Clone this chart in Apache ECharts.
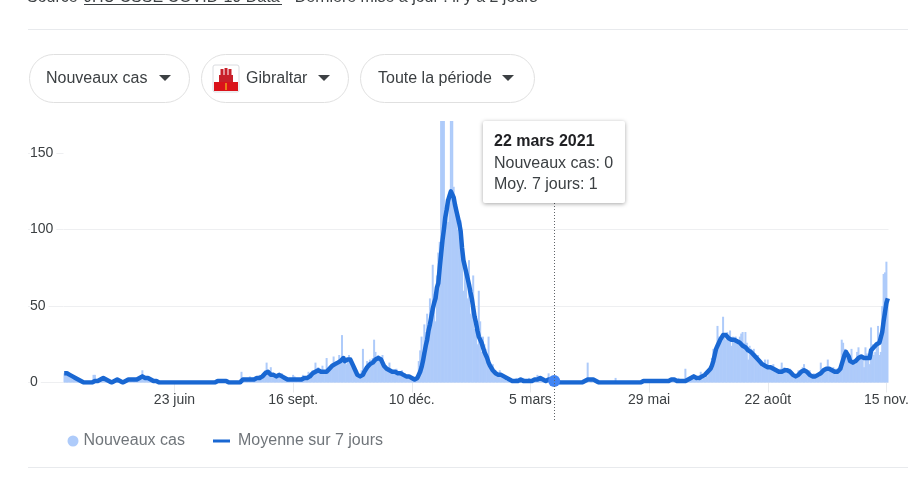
<!DOCTYPE html>
<html><head><meta charset="utf-8">
<style>html,body{margin:0;padding:0;background:#fff}#c{width:917px;height:477px}</style>
<script src="https://cdn.jsdelivr.net/npm/echarts@6/dist/echarts.min.js"></script>
</head><body><div id="c"></div>
<script>
const startDate = '2020-04-05';
const tickIndex = [79,164,249,334,419,504,589];
const tickLabels = ['23 juin','16 sept.','10 déc.','5 mars','29 mai','22 août','15 nov.'];
const yTicks = [0,50,100,150];
const seriesNames = ['Nouveaux cas','Moyenne sur 7 jours'];
const highlightIndex = 351;
const tooltipLines = ['22 mars 2021','Nouveaux cas: 0','Moy. 7 jours: 1'];

const newCases = [
6,7,5,6,4,5,3,4,3,1,
3,1,2,0,1,0,0,0,0,0,
1,5,5,1,2,1,2,1,3,2,
3,1,1,0,1,0,2,1,3,1,
1,0,0,1,0,3,1,2,2,3,
2,1,3,2,3,2,8,4,3,2,
3,2,1,2,1,0,1,0,0,0,
0,0,0,0,0,0,0,0,0,0,
0,0,0,0,0,0,0,0,0,0,0,
0,0,0,0,0,0,0,0,0,0,
0,0,0,0,0,0,0,0,1,2,
1,0,2,1,1,1,0,0,0,0,
0,0,0,0,0,2,7,2,3,1,
2,3,4,3,3,3,3,4,3,5,
4,4,5,8,13,7,6,10,5,6,
5,4,6,5,4,6,4,3,3,2,
3,3,2,5,4,3,3,2,3,3,
5,4,3,4,7,5,6,8,6,13,
9,10,8,8,11,8,7,16,9,9,
11,11,17,13,14,12,18,15,31,14,
14,12,14,18,15,12,9,7,5,4,
4,5,8,22,8,10,14,10,15,13,
16,28,20,16,18,15,14,18,11,10,
9,9,13,7,8,8,6,9,7,6,
6,8,5,6,4,5,3,4,2,3,
1,2,5,14,21,30,20,38,33,45,
28,55,47,77,58,40,70,85,92,190,
240,200,110,120,105,118,240,200,128,120,
115,100,95,106,90,60,75,70,55,80,
45,50,70,35,40,25,60,40,20,30,
25,22,15,30,12,10,12,6,8,7,
5,8,4,3,5,4,1,2,1,0,
1,0,1,3,0,1,3,0,3,2,
0,1,3,0,2,1,3,2,5,4,
3,1,2,1,0,2,6,3,1,1,
0,1,0,0,0,0,0,0,0,0,
0,0,0,0,0,0,0,0,0,0,
0,0,0,2,13,0,2,1,0,0,
0,0,0,0,0,0,0,0,0,0,
0,0,0,0,3,0,0,0,0,0,0,
0,0,0,0,0,0,0,0,0,0,
0,0,0,1,1,2,1,0,1,1,
1,1,0,2,1,1,0,1,2,1,
1,2,0,3,1,2,0,1,3,1,
1,2,1,9,2,1,3,2,5,4,
3,2,1,3,7,2,5,3,7,4,
8,10,16,22,20,24,37,30,28,30,
43,32,28,33,30,34,24,30,28,30,
28,25,30,32,33,26,33,26,15,24,
22,18,22,19,16,18,14,14,12,13,
15,11,15,10,11,9,12,9,8,8,
8,9,13,8,10,8,8,7,9,7,
5,4,5,4,8,6,7,10,12,8,
7,5,8,5,4,6,4,5,5,4,
13,8,9,7,9,15,9,9,9,10,
8,9,7,6,10,28,26,22,17,18,
14,13,22,14,15,12,20,23,15,18,
16,10,23,19,15,12,36,25,18,20,
26,37,18,20,50,71,72,79,52
];

const movingAvg = [
6,6,6,5,5,5,4,4,3,3,
2,2,1,1,0,0,0,0,0,0,
0,1,1,1,1,2,2,2,3,3,
2,2,1,1,0,0,1,1,2,2,
1,1,0,0,1,2,2,2,2,2,
2,2,2,2,3,3,4,4,3,3,
3,2,2,2,1,1,1,0,0,0,
0,0,0,0,0,0,0,0,0,0,
0,0,0,0,0,0,0,0,0,0,0,
0,0,0,0,0,0,0,0,0,0,
0,0,0,0,0,0,0,0,1,1,
1,1,1,1,1,1,0,0,0,0,
0,0,0,0,0,0,1,2,2,2,
2,2,2,2,2,2,2,3,3,3,
4,4,5,6,6,7,6,5,5,5,
4,4,4,5,4,4,4,3,3,2,
2,2,2,2,2,2,2,2,2,2,
2,3,3,3,4,4,5,6,7,7,
8,8,8,7,7,7,7,7,8,9,
10,11,12,12,13,13,14,14,15,16,
14,14,15,15,15,13,11,9,7,5,
4,4,4,5,7,8,10,11,12,13,
13,14,15,15,16,15,15,13,11,10,
9,8,8,7,7,7,7,7,6,6,
6,6,5,5,4,4,4,3,3,3,
2,2,3,4,7,10,14,19,24,28,
34,38,43,48,52,55,62,65,75,84,
93,100,108,113,119,122,125,126,121,116,
112,108,104,99,88,80,76,72,68,64,
59,55,49,43,39,34,30,28,26,23,
20,18,16,13,11,10,8,7,6,5,
5,5,5,4,4,4,3,2,2,1,
1,1,1,1,1,1,2,1,1,1,
1,1,1,1,1,2,2,2,2,2,
3,2,2,2,1,1,2,2,2,1,
1,1,1,0,0,0,0,0,0,0,
0,0,0,0,0,0,0,0,0,0,
0,0,1,2,2,2,2,2,2,2,
1,0,0,0,0,0,0,0,0,0,
0,0,0,0,0,0,0,0,0,0,0,
0,0,0,0,0,0,0,0,0,0,
0,0,0,1,1,1,1,1,1,1,
1,1,1,1,1,1,1,1,1,1,
1,1,1,2,1,2,1,1,2,1,
1,1,1,1,1,2,2,3,3,4,
3,3,3,3,3,4,4,5,5,7,
8,9,11,14,18,22,24,26,28,29,
31,31,31,30,29,28,28,28,28,28,
27,27,26,25,24,23,23,22,21,20,
20,19,18,17,16,15,14,13,12,11,
11,11,10,10,10,9,9,8,8,7,
7,7,7,8,8,8,8,8,7,6,
5,4,4,4,5,6,7,7,8,8,
7,6,5,5,4,4,4,4,5,5,
6,7,8,8,9,9,9,8,8,8,
7,7,7,7,9,12,15,18,20,20,
17,14,13,13,14,14,15,16,17,17,
16,16,16,16,16,16,21,22,23,24,
25,25,26,27,33,40,46,52,55
];

const categories = newCases.map((_, i) => {
  const d = new Date(startDate + 'T00:00:00Z');
  d.setUTCDate(d.getUTCDate() + i);
  return d.toISOString().slice(0, 10);
});

const FONT = '"Liberation Sans", Arial, sans-serif';
const pill = (x, w) => ({type:'rect', shape:{x, y:54.5, width:w, height:48, r:24}, style:{fill:'#fff', stroke:'#e0e0e0', lineWidth:1}});
const label = (x, y, text, extra) => ({type:'text', x, y, style:Object.assign({text, font:'16px '+FONT, fill:'#3c4043', verticalAlign:'middle'}, extra||{})});
const arrow = (x) => ({type:'polygon', shape:{points:[[x,75],[x+12,75],[x+6,81]]}, style:{fill:'#3c4043'}});
const hline = (y) => ({type:'line', shape:{x1:28, y1:y, x2:908, y2:y}, style:{stroke:'#e8eaed', lineWidth:1}});
const box = (x, y, w, h, fill) => ({type:'rect', shape:{x, y, width:w, height:h}, style:{fill}});

const chart = echarts.init(document.getElementById('c'), null, {renderer:'canvas'});
chart.setOption({
  animation:false,
  textStyle:{fontFamily:FONT},
  grid:{left:63.5, top:121, width:825, height:261.5, containLabel:false},
  legend:[
    {data:[{name:seriesNames[0], icon:'circle'}], left:62.5, top:428, itemWidth:11, itemHeight:11, textStyle:{fontSize:16, color:'#70757a', fontFamily:FONT}},
    {data:[{name:seriesNames[1], icon:'path://M0 0H17V3H0Z'}], left:208, top:428, itemWidth:17, itemHeight:11, textStyle:{fontSize:16, color:'#70757a', fontFamily:FONT, padding:[0,0,0,3]}}
  ],
  xAxis:{
    type:'category', data:categories, boundaryGap:true,
    axisLine:{show:false},
    axisTick:{show:true, length:10, alignWithLabel:true, lineStyle:{color:'#e8eaed', width:1}, interval:(i)=>tickIndex.includes(i)},
    axisLabel:{show:true, margin:11, fontSize:14, color:'#3c4043', fontFamily:FONT, hideOverlap:false,
      interval:(i)=>tickIndex.includes(i),
      formatter:(v, i)=>tickLabels[tickIndex.indexOf(i)] || ''},
    splitLine:{show:false}
  },
  yAxis:{
    type:'value', min:0, max:171, interval:50,
    axisLine:{show:false},
    axisTick:{show:true, length:35.5, lineStyle:{color:'#eeeff1', width:1}, customValues:yTicks},
    axisLabel:{show:true, align:'left', margin:33.5, fontSize:14, color:'#3c4043', fontFamily:FONT,
      backgroundColor:'#fff', padding:[5,3,0,0], customValues:yTicks},
    splitLine:{show:true, showMaxLine:false, lineStyle:{color:'#eeeff1', width:1}}
  },
  series:[
    {name:seriesNames[0], type:'bar', data:newCases, barWidth:2, itemStyle:{color:'#aecbfa'}, emphasis:{disabled:true}, z:2},
    {name:seriesNames[1], type:'line', data:movingAvg, showSymbol:false, symbol:'none', smooth:false,
      lineStyle:{color:'#1967d2', width:4.5, join:'round'}, itemStyle:{color:'#1967d2'}, emphasis:{disabled:true}, z:3,
      markPoint:{symbol:'circle', symbolSize:12, silent:true, label:{show:false}, itemStyle:{color:'#4285f4'},
        data:[{coord:[highlightIndex, movingAvg[highlightIndex]]}]}}
  ]
});

const px = chart.convertToPixel({xAxisIndex:0}, highlightIndex);
chart.setOption({graphic:[
  hline(29.5), hline(467.5),
  {type:'text', x:27, y:-10, style:{text:'Source', font:'16px '+FONT, fill:'#3c4043'}},
  {type:'text', x:84, y:-10, style:{text:'JHU CSSE COVID-19 Data', font:'16px '+FONT, fill:'#3c4043'}},
  box(84, 4, 198, 1, '#3c4043'),
  {type:'text', x:285, y:-10, style:{text:'· Dernière mise à jour : il y a 2 jours', font:'16px '+FONT, fill:'#3c4043'}},
  pill(29.5,160), pill(201.5,147), pill(360.5,174),
  label(46,79,'Nouveaux cas'), arrow(159),
  {type:'rect', shape:{x:213, y:65, width:26, height:27, r:2}, style:{fill:'#fff', stroke:'#dadce0', lineWidth:1}},
  box(214,82,24,9,'#da121a'), box(219,75,14,7,'#c8202a'), box(220.5,69,3,6,'#c8202a'), box(224.5,68,3,7,'#c8202a'), box(228.5,69,3,6,'#c8202a'), box(225.4,83,1.2,7,'#f5c518'),
  label(246,79,'Gibraltar'), arrow(318),
  label(378,79,'Toute la période'), arrow(502),
  {type:'line', z:5, shape:{x1:Math.round(px)+0.5, y1:203, x2:Math.round(px)+0.5, y2:421}, style:{stroke:'#5f6368', lineWidth:1, lineDash:[1,2]}},
  {type:'rect', z:10, shape:{x:483, y:121, width:142, height:82, r:2}, style:{fill:'#fff', shadowBlur:4, shadowColor:'rgba(0,0,0,0.35)', shadowOffsetY:1}},
  {type:'text', z:11, x:494, y:142, style:{text:tooltipLines[0], font:'bold 16px '+FONT, fill:'#202124', verticalAlign:'middle'}},
  {type:'text', z:11, x:494, y:164, style:{text:tooltipLines[1], font:'16px '+FONT, fill:'#3c4043', verticalAlign:'middle'}},
  {type:'text', z:11, x:494, y:185, style:{text:tooltipLines[2], font:'16px '+FONT, fill:'#3c4043', verticalAlign:'middle'}}
]});
</script></body></html>
